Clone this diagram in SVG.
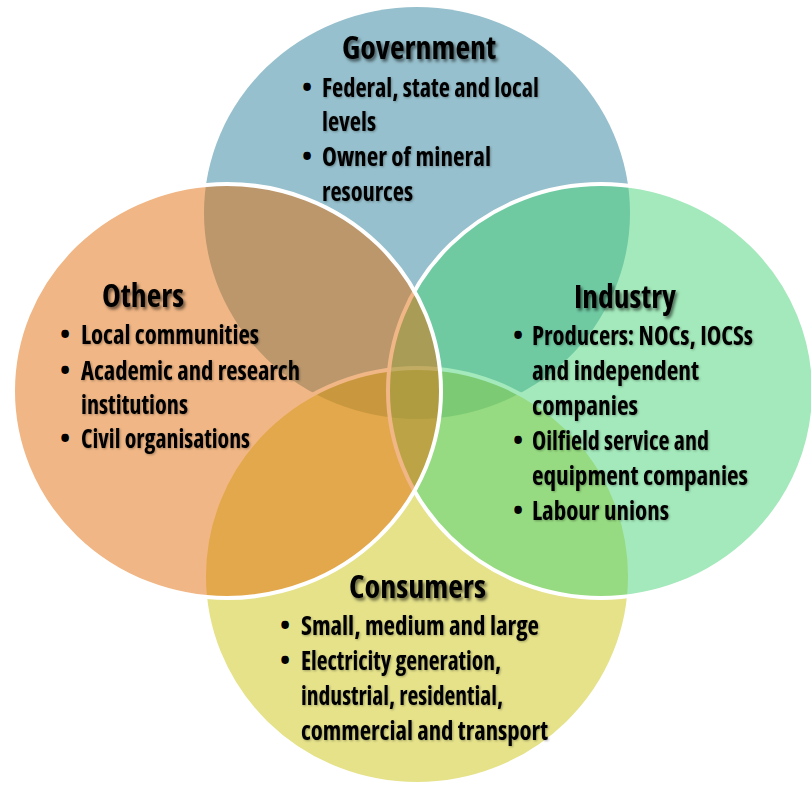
<svg xmlns="http://www.w3.org/2000/svg" width="811" height="785" viewBox="0 0 811 785">
  <defs>
    <filter id="tshadow" x="-10%" y="-30%" width="130%" height="170%">
      <feDropShadow dx="2" dy="2.5" stdDeviation="1.5" flood-color="#000" flood-opacity="0.55"/>
    </filter>
    <filter id="bshadow" x="-10%" y="-30%" width="130%" height="170%">
      <feDropShadow dx="1" dy="1" stdDeviation="0.8" flood-color="#000" flood-opacity="0.3"/>
    </filter>
  </defs>
  <style>
    .circ { stroke: #ffffff; stroke-width: 4; fill-opacity: 0.5; }
    .title { font-family: "Open Sans", "Liberation Sans", sans-serif; font-weight: 700; font-size: 32px; fill: #000; font-stretch: condensed; filter: url(#tshadow); }
    .body { font-family: "Open Sans", "Liberation Sans", sans-serif; font-weight: 700; font-size: 27px; fill: #000; font-stretch: condensed; filter: url(#bshadow); }
    .bul { font-family: "Open Sans", "Liberation Sans", sans-serif; font-weight: 700; font-size: 27px; fill: #000; text-anchor: middle; }
  </style>

  <g id="circles">
    <ellipse id="gov-shape" cx="417" cy="213" rx="213" ry="206" fill="#96C0CD"/>
    <ellipse id="con-shape" class="circ" cx="417" cy="576" rx="213" ry="208" fill="#CBC515"/>
    <ellipse id="ind-shape" class="circ" cx="601" cy="391" rx="213" ry="207" fill="#47D377"/>
    <ellipse id="oth-shape" class="circ" cx="227" cy="391" rx="214" ry="207" fill="#E16D0B"/>
  </g>

  <g id="connectors"/>

  <g id="government">
    <text class="title" x="342" y="59" textLength="154" lengthAdjust="spacingAndGlyphs">Government</text>
    <text class="bul" x="307" y="97">•</text>
    <text class="bul" x="307" y="166">•</text>
    <text class="body" x="322" y="97" textLength="217" lengthAdjust="spacingAndGlyphs">Federal, state and local</text>
    <text class="body" x="322" y="131" textLength="54" lengthAdjust="spacingAndGlyphs">levels</text>
    <text class="body" x="322" y="166" textLength="169" lengthAdjust="spacingAndGlyphs">Owner of mineral</text>
    <text class="body" x="322" y="201" textLength="91" lengthAdjust="spacingAndGlyphs">resources</text>
  </g>

  <g id="others">
    <text class="title" x="102" y="307" textLength="82" lengthAdjust="spacingAndGlyphs">Others</text>
    <text class="bul" x="65" y="344">•</text>
    <text class="bul" x="65" y="380">•</text>
    <text class="bul" x="65" y="448">•</text>
    <text class="body" x="81" y="344" textLength="178" lengthAdjust="spacingAndGlyphs">Local communities</text>
    <text class="body" x="81" y="380" textLength="219" lengthAdjust="spacingAndGlyphs">Academic and research</text>
    <text class="body" x="81" y="414" textLength="107" lengthAdjust="spacingAndGlyphs">institutions</text>
    <text class="body" x="81" y="448" textLength="169" lengthAdjust="spacingAndGlyphs">Civil organisations</text>
  </g>

  <g id="industry">
    <text class="title" x="574" y="308" textLength="102" lengthAdjust="spacingAndGlyphs">Industry</text>
    <text class="bul" x="518" y="345">•</text>
    <text class="bul" x="518" y="450">•</text>
    <text class="bul" x="518" y="520">•</text>
    <text class="body" x="532" y="345" textLength="221" lengthAdjust="spacingAndGlyphs">Producers: NOCs, IOCSs</text>
    <text class="body" x="532" y="380" textLength="167" lengthAdjust="spacingAndGlyphs">and independent</text>
    <text class="body" x="532" y="415" textLength="106" lengthAdjust="spacingAndGlyphs">companies</text>
    <text class="body" x="532" y="450" textLength="177" lengthAdjust="spacingAndGlyphs">Oilfield service and</text>
    <text class="body" x="532" y="485" textLength="216" lengthAdjust="spacingAndGlyphs">equipment companies</text>
    <text class="body" x="532" y="520" textLength="137" lengthAdjust="spacingAndGlyphs">Labour unions</text>
  </g>

  <g id="consumers">
    <text class="title" x="349" y="598" textLength="137" lengthAdjust="spacingAndGlyphs">Consumers</text>
    <text class="bul" x="285" y="635">•</text>
    <text class="bul" x="285" y="670">•</text>
    <text class="body" x="301" y="635" textLength="238" lengthAdjust="spacingAndGlyphs">Small, medium and large</text>
    <text class="body" x="301" y="670" textLength="200" lengthAdjust="spacingAndGlyphs">Electricity generation,</text>
    <text class="body" x="301" y="705" textLength="202" lengthAdjust="spacingAndGlyphs">industrial, residential,</text>
    <text class="body" x="301" y="740" textLength="247" lengthAdjust="spacingAndGlyphs">commercial and transport</text>
  </g>
</svg>
